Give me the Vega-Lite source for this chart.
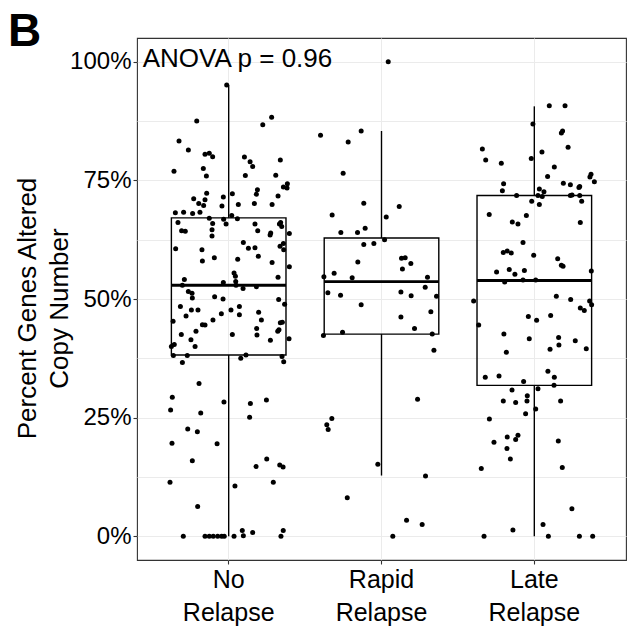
{
  "$schema": "https://vega.github.io/schema/vega-lite/v6.json",
  "width": 489,
  "height": 522,
  "autosize": {"type": "none"},
  "padding": {"left": 137, "top": 38, "right": 8, "bottom": 67},
  "background": "white",
  "title": {"text": "B", "anchor": "start", "frame": "group", "fontSize": 46, "fontWeight": "bold", "font": "Liberation Sans", "color": "black", "dx": -129, "offset": -54, "baseline": "alphabetic"},
  "config": {
    "view": {"stroke": "#333333", "strokeWidth": 1.1},
    "axis": {"labelFont": "Liberation Sans", "titleFont": "Liberation Sans", "labelColor": "black", "titleColor": "black", "gridColor": "#EBEBEB", "gridWidth": 1, "tickColor": "#333333", "tickWidth": 1.1, "tickSize": 4, "domain": false}
  },
  "datasets": {
    "points": [
      {"group": "No Relapse", "jitter": -0.013, "value": 95.1},
      {"group": "No Relapse", "jitter": -0.209, "value": 87.5},
      {"group": "No Relapse", "jitter": 0.281, "value": 88.3},
      {"group": "No Relapse", "jitter": 0.223, "value": 86.7},
      {"group": "No Relapse", "jitter": -0.325, "value": 83.3},
      {"group": "No Relapse", "jitter": -0.264, "value": 81.4},
      {"group": "No Relapse", "jitter": -0.155, "value": 80.5},
      {"group": "No Relapse", "jitter": -0.127, "value": 80.7},
      {"group": "No Relapse", "jitter": -0.105, "value": 80.0},
      {"group": "No Relapse", "jitter": 0.103, "value": 79.9},
      {"group": "No Relapse", "jitter": 0.140, "value": 78.9},
      {"group": "No Relapse", "jitter": 0.157, "value": 77.9},
      {"group": "No Relapse", "jitter": 0.338, "value": 79.3},
      {"group": "No Relapse", "jitter": -0.358, "value": 76.9},
      {"group": "No Relapse", "jitter": -0.166, "value": 77.5},
      {"group": "No Relapse", "jitter": -0.146, "value": 75.9},
      {"group": "No Relapse", "jitter": 0.109, "value": 76.0},
      {"group": "No Relapse", "jitter": 0.308, "value": 76.1},
      {"group": "No Relapse", "jitter": 0.384, "value": 74.3},
      {"group": "No Relapse", "jitter": 0.358, "value": 73.6},
      {"group": "No Relapse", "jitter": 0.382, "value": 73.4},
      {"group": "No Relapse", "jitter": 0.188, "value": 73.0},
      {"group": "No Relapse", "jitter": 0.181, "value": 72.1},
      {"group": "No Relapse", "jitter": 0.323, "value": 71.7},
      {"group": "No Relapse", "jitter": -0.144, "value": 72.3},
      {"group": "No Relapse", "jitter": 0.024, "value": 72.2},
      {"group": "No Relapse", "jitter": -0.035, "value": 71.5},
      {"group": "No Relapse", "jitter": -0.229, "value": 71.1},
      {"group": "No Relapse", "jitter": -0.155, "value": 70.9},
      {"group": "No Relapse", "jitter": -0.196, "value": 70.1},
      {"group": "No Relapse", "jitter": -0.164, "value": 69.7},
      {"group": "No Relapse", "jitter": -0.044, "value": 69.6},
      {"group": "No Relapse", "jitter": 0.063, "value": 69.9},
      {"group": "No Relapse", "jitter": 0.168, "value": 70.1},
      {"group": "No Relapse", "jitter": 0.284, "value": 69.9},
      {"group": "No Relapse", "jitter": -0.349, "value": 68.2},
      {"group": "No Relapse", "jitter": -0.295, "value": 68.3},
      {"group": "No Relapse", "jitter": -0.236, "value": 68.0},
      {"group": "No Relapse", "jitter": -0.188, "value": 68.3},
      {"group": "No Relapse", "jitter": -0.332, "value": 66.1},
      {"group": "No Relapse", "jitter": -0.127, "value": 67.0},
      {"group": "No Relapse", "jitter": -0.105, "value": 65.9},
      {"group": "No Relapse", "jitter": -0.033, "value": 66.8},
      {"group": "No Relapse", "jitter": -0.017, "value": 65.8},
      {"group": "No Relapse", "jitter": 0.020, "value": 67.6},
      {"group": "No Relapse", "jitter": 0.057, "value": 66.9},
      {"group": "No Relapse", "jitter": 0.172, "value": 65.8},
      {"group": "No Relapse", "jitter": 0.190, "value": 64.4},
      {"group": "No Relapse", "jitter": 0.332, "value": 65.8},
      {"group": "No Relapse", "jitter": 0.347, "value": 65.3},
      {"group": "No Relapse", "jitter": 0.340, "value": 66.1},
      {"group": "No Relapse", "jitter": 0.275, "value": 63.9},
      {"group": "No Relapse", "jitter": 0.271, "value": 63.5},
      {"group": "No Relapse", "jitter": 0.397, "value": 63.8},
      {"group": "No Relapse", "jitter": -0.308, "value": 64.4},
      {"group": "No Relapse", "jitter": -0.284, "value": 64.3},
      {"group": "No Relapse", "jitter": -0.109, "value": 64.6},
      {"group": "No Relapse", "jitter": -0.109, "value": 63.3},
      {"group": "No Relapse", "jitter": -0.347, "value": 60.6},
      {"group": "No Relapse", "jitter": -0.175, "value": 60.4},
      {"group": "No Relapse", "jitter": -0.172, "value": 58.0},
      {"group": "No Relapse", "jitter": -0.094, "value": 58.7},
      {"group": "No Relapse", "jitter": 0.096, "value": 61.9},
      {"group": "No Relapse", "jitter": 0.129, "value": 60.7},
      {"group": "No Relapse", "jitter": 0.172, "value": 60.8},
      {"group": "No Relapse", "jitter": 0.194, "value": 59.0},
      {"group": "No Relapse", "jitter": 0.059, "value": 58.4},
      {"group": "No Relapse", "jitter": 0.336, "value": 61.1},
      {"group": "No Relapse", "jitter": 0.358, "value": 61.7},
      {"group": "No Relapse", "jitter": 0.360, "value": 60.4},
      {"group": "No Relapse", "jitter": 0.284, "value": 57.7},
      {"group": "No Relapse", "jitter": 0.397, "value": 56.8},
      {"group": "No Relapse", "jitter": 0.035, "value": 55.5},
      {"group": "No Relapse", "jitter": 0.044, "value": 54.8},
      {"group": "No Relapse", "jitter": 0.323, "value": 54.6},
      {"group": "No Relapse", "jitter": -0.290, "value": 54.1},
      {"group": "No Relapse", "jitter": -0.035, "value": 53.5},
      {"group": "No Relapse", "jitter": 0.046, "value": 53.7},
      {"group": "No Relapse", "jitter": 0.048, "value": 52.9},
      {"group": "No Relapse", "jitter": 0.094, "value": 52.2},
      {"group": "No Relapse", "jitter": 0.181, "value": 52.6},
      {"group": "No Relapse", "jitter": -0.303, "value": 52.9},
      {"group": "No Relapse", "jitter": -0.264, "value": 51.6},
      {"group": "No Relapse", "jitter": -0.240, "value": 51.2},
      {"group": "No Relapse", "jitter": -0.238, "value": 50.2},
      {"group": "No Relapse", "jitter": -0.092, "value": 50.5},
      {"group": "No Relapse", "jitter": -0.037, "value": 50.0},
      {"group": "No Relapse", "jitter": 0.327, "value": 49.9},
      {"group": "No Relapse", "jitter": 0.366, "value": 48.9},
      {"group": "No Relapse", "jitter": -0.316, "value": 48.4},
      {"group": "No Relapse", "jitter": -0.244, "value": 47.7},
      {"group": "No Relapse", "jitter": -0.201, "value": 47.7},
      {"group": "No Relapse", "jitter": -0.279, "value": 46.4},
      {"group": "No Relapse", "jitter": 0.015, "value": 47.7},
      {"group": "No Relapse", "jitter": 0.070, "value": 48.4},
      {"group": "No Relapse", "jitter": 0.070, "value": 46.7},
      {"group": "No Relapse", "jitter": -0.048, "value": 46.9},
      {"group": "No Relapse", "jitter": 0.196, "value": 47.2},
      {"group": "No Relapse", "jitter": 0.214, "value": 45.6},
      {"group": "No Relapse", "jitter": -0.364, "value": 45.3},
      {"group": "No Relapse", "jitter": -0.103, "value": 45.6},
      {"group": "No Relapse", "jitter": -0.172, "value": 44.6},
      {"group": "No Relapse", "jitter": -0.155, "value": 44.5},
      {"group": "No Relapse", "jitter": 0.338, "value": 45.0},
      {"group": "No Relapse", "jitter": 0.351, "value": 45.1},
      {"group": "No Relapse", "jitter": 0.183, "value": 43.8},
      {"group": "No Relapse", "jitter": 0.329, "value": 43.5},
      {"group": "No Relapse", "jitter": 0.321, "value": 43.2},
      {"group": "No Relapse", "jitter": -0.214, "value": 43.2},
      {"group": "No Relapse", "jitter": -0.310, "value": 42.5},
      {"group": "No Relapse", "jitter": 0.024, "value": 42.5},
      {"group": "No Relapse", "jitter": 0.185, "value": 42.4},
      {"group": "No Relapse", "jitter": 0.395, "value": 41.6},
      {"group": "No Relapse", "jitter": -0.247, "value": 41.4},
      {"group": "No Relapse", "jitter": 0.273, "value": 41.3},
      {"group": "No Relapse", "jitter": -0.375, "value": 40.0},
      {"group": "No Relapse", "jitter": -0.356, "value": 40.4},
      {"group": "No Relapse", "jitter": -0.220, "value": 40.0},
      {"group": "No Relapse", "jitter": -0.362, "value": 38.1},
      {"group": "No Relapse", "jitter": -0.271, "value": 38.1},
      {"group": "No Relapse", "jitter": 0.113, "value": 38.2},
      {"group": "No Relapse", "jitter": 0.079, "value": 37.5},
      {"group": "No Relapse", "jitter": 0.349, "value": 37.9},
      {"group": "No Relapse", "jitter": 0.360, "value": 36.8},
      {"group": "No Relapse", "jitter": -0.303, "value": 36.6},
      {"group": "No Relapse", "jitter": -0.194, "value": 32.2},
      {"group": "No Relapse", "jitter": -0.369, "value": 29.3},
      {"group": "No Relapse", "jitter": -0.380, "value": 26.6},
      {"group": "No Relapse", "jitter": -0.183, "value": 26.0},
      {"group": "No Relapse", "jitter": -0.031, "value": 28.3},
      {"group": "No Relapse", "jitter": 0.142, "value": 28.0},
      {"group": "No Relapse", "jitter": 0.247, "value": 28.7},
      {"group": "No Relapse", "jitter": 0.137, "value": 25.1},
      {"group": "No Relapse", "jitter": -0.268, "value": 22.6},
      {"group": "No Relapse", "jitter": -0.205, "value": 22.0},
      {"group": "No Relapse", "jitter": -0.371, "value": 19.6},
      {"group": "No Relapse", "jitter": -0.076, "value": 19.5},
      {"group": "No Relapse", "jitter": -0.238, "value": 15.9},
      {"group": "No Relapse", "jitter": 0.249, "value": 16.3},
      {"group": "No Relapse", "jitter": 0.179, "value": 14.7},
      {"group": "No Relapse", "jitter": 0.334, "value": 15.0},
      {"group": "No Relapse", "jitter": 0.356, "value": 14.6},
      {"group": "No Relapse", "jitter": -0.384, "value": 11.4},
      {"group": "No Relapse", "jitter": 0.041, "value": 10.6},
      {"group": "No Relapse", "jitter": 0.292, "value": 11.4},
      {"group": "No Relapse", "jitter": -0.203, "value": 6.3},
      {"group": "No Relapse", "jitter": -0.297, "value": 0},
      {"group": "No Relapse", "jitter": -0.155, "value": 0},
      {"group": "No Relapse", "jitter": -0.127, "value": 0},
      {"group": "No Relapse", "jitter": -0.101, "value": 0},
      {"group": "No Relapse", "jitter": -0.072, "value": 0},
      {"group": "No Relapse", "jitter": -0.046, "value": 0},
      {"group": "No Relapse", "jitter": -0.029, "value": 0},
      {"group": "No Relapse", "jitter": 0.035, "value": 0},
      {"group": "No Relapse", "jitter": 0.089, "value": 1.2},
      {"group": "No Relapse", "jitter": 0.096, "value": 0.1},
      {"group": "No Relapse", "jitter": 0.157, "value": 0.8},
      {"group": "No Relapse", "jitter": 0.357, "value": 1.2},
      {"group": "No Relapse", "jitter": 0.342, "value": 0},
      {"group": "Rapid Relapse", "jitter": 0.044, "value": 100},
      {"group": "Rapid Relapse", "jitter": -0.399, "value": 84.5},
      {"group": "Rapid Relapse", "jitter": -0.133, "value": 85.4},
      {"group": "Rapid Relapse", "jitter": -0.218, "value": 83.1},
      {"group": "Rapid Relapse", "jitter": -0.251, "value": 76.5},
      {"group": "Rapid Relapse", "jitter": -0.116, "value": 70.2},
      {"group": "Rapid Relapse", "jitter": -0.323, "value": 67.7},
      {"group": "Rapid Relapse", "jitter": 0.116, "value": 69.5},
      {"group": "Rapid Relapse", "jitter": 0.031, "value": 67.3},
      {"group": "Rapid Relapse", "jitter": -0.266, "value": 64.0},
      {"group": "Rapid Relapse", "jitter": -0.157, "value": 64.0},
      {"group": "Rapid Relapse", "jitter": -0.107, "value": 64.9},
      {"group": "Rapid Relapse", "jitter": -0.116, "value": 61.5},
      {"group": "Rapid Relapse", "jitter": -0.050, "value": 61.7},
      {"group": "Rapid Relapse", "jitter": 0.020, "value": 62.5},
      {"group": "Rapid Relapse", "jitter": 0.131, "value": 58.6},
      {"group": "Rapid Relapse", "jitter": 0.155, "value": 58.7},
      {"group": "Rapid Relapse", "jitter": 0.192, "value": 57.5},
      {"group": "Rapid Relapse", "jitter": 0.137, "value": 56.3},
      {"group": "Rapid Relapse", "jitter": -0.155, "value": 57.8},
      {"group": "Rapid Relapse", "jitter": -0.310, "value": 55.4},
      {"group": "Rapid Relapse", "jitter": -0.377, "value": 54.7},
      {"group": "Rapid Relapse", "jitter": -0.192, "value": 54.5},
      {"group": "Rapid Relapse", "jitter": 0.301, "value": 54.6},
      {"group": "Rapid Relapse", "jitter": 0.286, "value": 52.5},
      {"group": "Rapid Relapse", "jitter": -0.351, "value": 51.3},
      {"group": "Rapid Relapse", "jitter": -0.268, "value": 50.8},
      {"group": "Rapid Relapse", "jitter": 0.127, "value": 51.5},
      {"group": "Rapid Relapse", "jitter": 0.194, "value": 50.7},
      {"group": "Rapid Relapse", "jitter": 0.360, "value": 50.6},
      {"group": "Rapid Relapse", "jitter": -0.133, "value": 48.8},
      {"group": "Rapid Relapse", "jitter": 0.127, "value": 46.2},
      {"group": "Rapid Relapse", "jitter": 0.323, "value": 47.3},
      {"group": "Rapid Relapse", "jitter": 0.216, "value": 43.8},
      {"group": "Rapid Relapse", "jitter": -0.255, "value": 43.0},
      {"group": "Rapid Relapse", "jitter": -0.380, "value": 42.3},
      {"group": "Rapid Relapse", "jitter": 0.332, "value": 42.6},
      {"group": "Rapid Relapse", "jitter": 0.343, "value": 39.2},
      {"group": "Rapid Relapse", "jitter": 0.236, "value": 28.9},
      {"group": "Rapid Relapse", "jitter": -0.325, "value": 24.8},
      {"group": "Rapid Relapse", "jitter": -0.358, "value": 23.5},
      {"group": "Rapid Relapse", "jitter": -0.349, "value": 22.5},
      {"group": "Rapid Relapse", "jitter": -0.024, "value": 15.2},
      {"group": "Rapid Relapse", "jitter": 0.288, "value": 12.7},
      {"group": "Rapid Relapse", "jitter": -0.224, "value": 8.1},
      {"group": "Rapid Relapse", "jitter": 0.164, "value": 3.4},
      {"group": "Rapid Relapse", "jitter": 0.266, "value": 2.5},
      {"group": "Rapid Relapse", "jitter": 0.074, "value": 0},
      {"group": "Late Relapse", "jitter": 0.098, "value": 90.7},
      {"group": "Late Relapse", "jitter": 0.201, "value": 90.7},
      {"group": "Late Relapse", "jitter": -0.009, "value": 86.9},
      {"group": "Late Relapse", "jitter": 0.185, "value": 85.4},
      {"group": "Late Relapse", "jitter": 0.177, "value": 85.0},
      {"group": "Late Relapse", "jitter": -0.340, "value": 81.6},
      {"group": "Late Relapse", "jitter": -0.318, "value": 79.3},
      {"group": "Late Relapse", "jitter": -0.216, "value": 78.6},
      {"group": "Late Relapse", "jitter": -0.020, "value": 79.6},
      {"group": "Late Relapse", "jitter": 0.050, "value": 81.0},
      {"group": "Late Relapse", "jitter": 0.221, "value": 82.0},
      {"group": "Late Relapse", "jitter": 0.131, "value": 77.8},
      {"group": "Late Relapse", "jitter": 0.087, "value": 75.8},
      {"group": "Late Relapse", "jitter": 0.371, "value": 76.3},
      {"group": "Late Relapse", "jitter": 0.364, "value": 75.7},
      {"group": "Late Relapse", "jitter": 0.393, "value": 74.7},
      {"group": "Late Relapse", "jitter": -0.201, "value": 74.3},
      {"group": "Late Relapse", "jitter": -0.209, "value": 72.8},
      {"group": "Late Relapse", "jitter": -0.116, "value": 71.8},
      {"group": "Late Relapse", "jitter": 0.033, "value": 73.2},
      {"group": "Late Relapse", "jitter": 0.063, "value": 72.6},
      {"group": "Late Relapse", "jitter": 0.024, "value": 71.8},
      {"group": "Late Relapse", "jitter": 0.052, "value": 71.6},
      {"group": "Late Relapse", "jitter": 0.190, "value": 74.4},
      {"group": "Late Relapse", "jitter": 0.236, "value": 74.1},
      {"group": "Late Relapse", "jitter": 0.297, "value": 73.7},
      {"group": "Late Relapse", "jitter": 0.292, "value": 73.5},
      {"group": "Late Relapse", "jitter": 0.236, "value": 71.8},
      {"group": "Late Relapse", "jitter": 0.247, "value": 71.9},
      {"group": "Late Relapse", "jitter": 0.297, "value": 71.8},
      {"group": "Late Relapse", "jitter": 0.310, "value": 70.6},
      {"group": "Late Relapse", "jitter": -0.017, "value": 70.6},
      {"group": "Late Relapse", "jitter": 0.033, "value": 69.9},
      {"group": "Late Relapse", "jitter": -0.295, "value": 67.8},
      {"group": "Late Relapse", "jitter": -0.052, "value": 67.6},
      {"group": "Late Relapse", "jitter": -0.144, "value": 66.2},
      {"group": "Late Relapse", "jitter": -0.107, "value": 65.8},
      {"group": "Late Relapse", "jitter": 0.301, "value": 66.1},
      {"group": "Late Relapse", "jitter": -0.074, "value": 61.9},
      {"group": "Late Relapse", "jitter": -0.203, "value": 59.8},
      {"group": "Late Relapse", "jitter": -0.177, "value": 60.1},
      {"group": "Late Relapse", "jitter": -0.151, "value": 59.7},
      {"group": "Late Relapse", "jitter": -0.004, "value": 59.2},
      {"group": "Late Relapse", "jitter": 0.153, "value": 58.5},
      {"group": "Late Relapse", "jitter": 0.177, "value": 57.1},
      {"group": "Late Relapse", "jitter": 0.188, "value": 56.9},
      {"group": "Late Relapse", "jitter": -0.247, "value": 55.7},
      {"group": "Late Relapse", "jitter": -0.164, "value": 56.2},
      {"group": "Late Relapse", "jitter": -0.127, "value": 55.2},
      {"group": "Late Relapse", "jitter": -0.065, "value": 56.0},
      {"group": "Late Relapse", "jitter": 0.373, "value": 55.9},
      {"group": "Late Relapse", "jitter": -0.194, "value": 53.6},
      {"group": "Late Relapse", "jitter": -0.074, "value": 54.0},
      {"group": "Late Relapse", "jitter": 0.009, "value": 54.0},
      {"group": "Late Relapse", "jitter": 0.144, "value": 50.6},
      {"group": "Late Relapse", "jitter": 0.238, "value": 49.9},
      {"group": "Late Relapse", "jitter": -0.397, "value": 49.6},
      {"group": "Late Relapse", "jitter": 0.362, "value": 49.6},
      {"group": "Late Relapse", "jitter": 0.375, "value": 48.8},
      {"group": "Late Relapse", "jitter": 0.301, "value": 48.1},
      {"group": "Late Relapse", "jitter": 0.327, "value": 47.6},
      {"group": "Late Relapse", "jitter": -0.039, "value": 46.3},
      {"group": "Late Relapse", "jitter": 0.015, "value": 45.5},
      {"group": "Late Relapse", "jitter": 0.107, "value": 46.5},
      {"group": "Late Relapse", "jitter": -0.364, "value": 44.5},
      {"group": "Late Relapse", "jitter": -0.199, "value": 42.6},
      {"group": "Late Relapse", "jitter": -0.033, "value": 41.6},
      {"group": "Late Relapse", "jitter": 0.159, "value": 41.9},
      {"group": "Late Relapse", "jitter": 0.161, "value": 40.3},
      {"group": "Late Relapse", "jitter": 0.268, "value": 41.2},
      {"group": "Late Relapse", "jitter": 0.103, "value": 39.4},
      {"group": "Late Relapse", "jitter": 0.340, "value": 39.5},
      {"group": "Late Relapse", "jitter": -0.183, "value": 38.8},
      {"group": "Late Relapse", "jitter": 0.089, "value": 34.8},
      {"group": "Late Relapse", "jitter": -0.321, "value": 33.5},
      {"group": "Late Relapse", "jitter": -0.231, "value": 33.8},
      {"group": "Late Relapse", "jitter": 0.131, "value": 33.5},
      {"group": "Late Relapse", "jitter": -0.070, "value": 32.6},
      {"group": "Late Relapse", "jitter": 0.129, "value": 31.8},
      {"group": "Late Relapse", "jitter": 0.024, "value": 31.1},
      {"group": "Late Relapse", "jitter": -0.146, "value": 30.8},
      {"group": "Late Relapse", "jitter": -0.046, "value": 29.6},
      {"group": "Late Relapse", "jitter": -0.203, "value": 28.5},
      {"group": "Late Relapse", "jitter": -0.122, "value": 28.2},
      {"group": "Late Relapse", "jitter": -0.048, "value": 28.5},
      {"group": "Late Relapse", "jitter": 0.172, "value": 28.5},
      {"group": "Late Relapse", "jitter": 0.009, "value": 26.8},
      {"group": "Late Relapse", "jitter": -0.057, "value": 25.8},
      {"group": "Late Relapse", "jitter": -0.294, "value": 24.7},
      {"group": "Late Relapse", "jitter": -0.107, "value": 21.3},
      {"group": "Late Relapse", "jitter": -0.122, "value": 20.4},
      {"group": "Late Relapse", "jitter": -0.177, "value": 20.9},
      {"group": "Late Relapse", "jitter": -0.264, "value": 19.8},
      {"group": "Late Relapse", "jitter": 0.157, "value": 20.1},
      {"group": "Late Relapse", "jitter": -0.179, "value": 18.5},
      {"group": "Late Relapse", "jitter": -0.157, "value": 16.3},
      {"group": "Late Relapse", "jitter": -0.347, "value": 14.3},
      {"group": "Late Relapse", "jitter": 0.183, "value": 14.5},
      {"group": "Late Relapse", "jitter": 0.246, "value": 5.8},
      {"group": "Late Relapse", "jitter": 0.057, "value": 2.5},
      {"group": "Late Relapse", "jitter": -0.140, "value": 1.3},
      {"group": "Late Relapse", "jitter": -0.329, "value": 0},
      {"group": "Late Relapse", "jitter": 0.092, "value": 0},
      {"group": "Late Relapse", "jitter": 0.295, "value": 0},
      {"group": "Late Relapse", "jitter": 0.382, "value": 0}
    ],
    "boxes": [
      {"group": "No Relapse", "lower": 0, "q1": 38.2, "median": 52.9, "q3": 67.1, "upper": 95.1},
      {"group": "Rapid Relapse", "lower": 12.8, "q1": 42.6, "median": 53.65, "q3": 62.85, "upper": 85.4},
      {"group": "Late Relapse", "lower": 0, "q1": 31.8, "median": 53.9, "q3": 71.8, "upper": 90.6}
    ],
    "note": [
      {"group": "No Relapse", "value": 100, "label": "ANOVA p = 0.96"}
    ]
  },
  "layer": [
    {
      "data": {"name": "boxes"},
      "mark": {"type": "rule", "color": "black", "strokeWidth": 1.4},
      "encoding": {
        "x": {"field": "group", "type": "nominal"},
        "y": {"field": "lower", "type": "quantitative"},
        "y2": {"field": "q1"}
      }
    },
    {
      "data": {"name": "boxes"},
      "mark": {"type": "rule", "color": "black", "strokeWidth": 1.4},
      "encoding": {
        "x": {"field": "group", "type": "nominal"},
        "y": {"field": "q3", "type": "quantitative"},
        "y2": {"field": "upper"}
      }
    },
    {
      "data": {"name": "boxes"},
      "mark": {"type": "bar", "fill": "transparent", "stroke": "black", "strokeWidth": 1.4, "width": 114.6},
      "encoding": {
        "x": {"field": "group", "type": "nominal"},
        "y": {"field": "q1", "type": "quantitative"},
        "y2": {"field": "q3"}
      }
    },
    {
      "data": {"name": "boxes"},
      "mark": {"type": "bar", "fill": "black", "stroke": "black", "strokeWidth": 2.8, "width": 114.6},
      "encoding": {
        "x": {"field": "group", "type": "nominal"},
        "y": {"field": "median", "type": "quantitative"},
        "y2": {"field": "median"}
      }
    },
    {
      "data": {"name": "points"},
      "mark": {"type": "circle", "color": "black", "opacity": 1, "size": 25},
      "encoding": {
        "x": {"field": "group", "type": "nominal"},
        "xOffset": {"field": "jitter", "type": "quantitative", "scale": {"domain": [-0.375, 0.375], "nice": false, "zero": false}},
        "y": {"field": "value", "type": "quantitative"}
      }
    },
    {
      "data": {"name": "note"},
      "mark": {"type": "text", "align": "left", "baseline": "middle", "dx": -86, "dy": -3, "fontSize": 26, "font": "Liberation Sans", "color": "black"},
      "encoding": {
        "x": {"field": "group", "type": "nominal"},
        "y": {"field": "value", "type": "quantitative"},
        "text": {"field": "label"}
      }
    }
  ],
  "resolve": {"scale": {"x": "shared", "y": "shared"}},
  "encoding": {
    "x": {
      "field": "group", "type": "nominal",
      "sort": ["No Relapse", "Rapid Relapse", "Late Relapse"],
      "scale": {"domain": ["No Relapse", "Rapid Relapse", "Late Relapse"], "paddingInner": 0.25, "paddingOuter": 0.225},
      "axis": {"title": null, "labelAngle": 0, "labelFontSize": 25, "labelLineHeight": 33, "labelExpr": "split(datum.label, ' ')", "grid": true, "labelPadding": 3}
    },
    "y": {
      "field": "value", "type": "quantitative",
      "scale": {"domain": [-5, 105], "nice": false, "zero": false},
      "axis": {
        "title": ["Percent Genes Altered", "Copy Number"],
        "titleFontSize": 26, "titleFontWeight": "normal", "titleLineHeight": 32, "titlePadding": -3, "titleY": 270,
        "values": [0, 12.5, 25, 37.5, 50, 62.5, 75, 87.5, 100],
        "labelExpr": "datum.value % 25 === 0 ? datum.value + '%' : ''",
        "tickOpacity": {"condition": {"test": "datum.value % 25 !== 0", "value": 0}, "value": 1},
        "labelFontSize": 24, "labelPadding": 2, "labelOverlap": false, "labelFlush": false, "labelBound": false, "grid": true
      }
    }
  }
}
